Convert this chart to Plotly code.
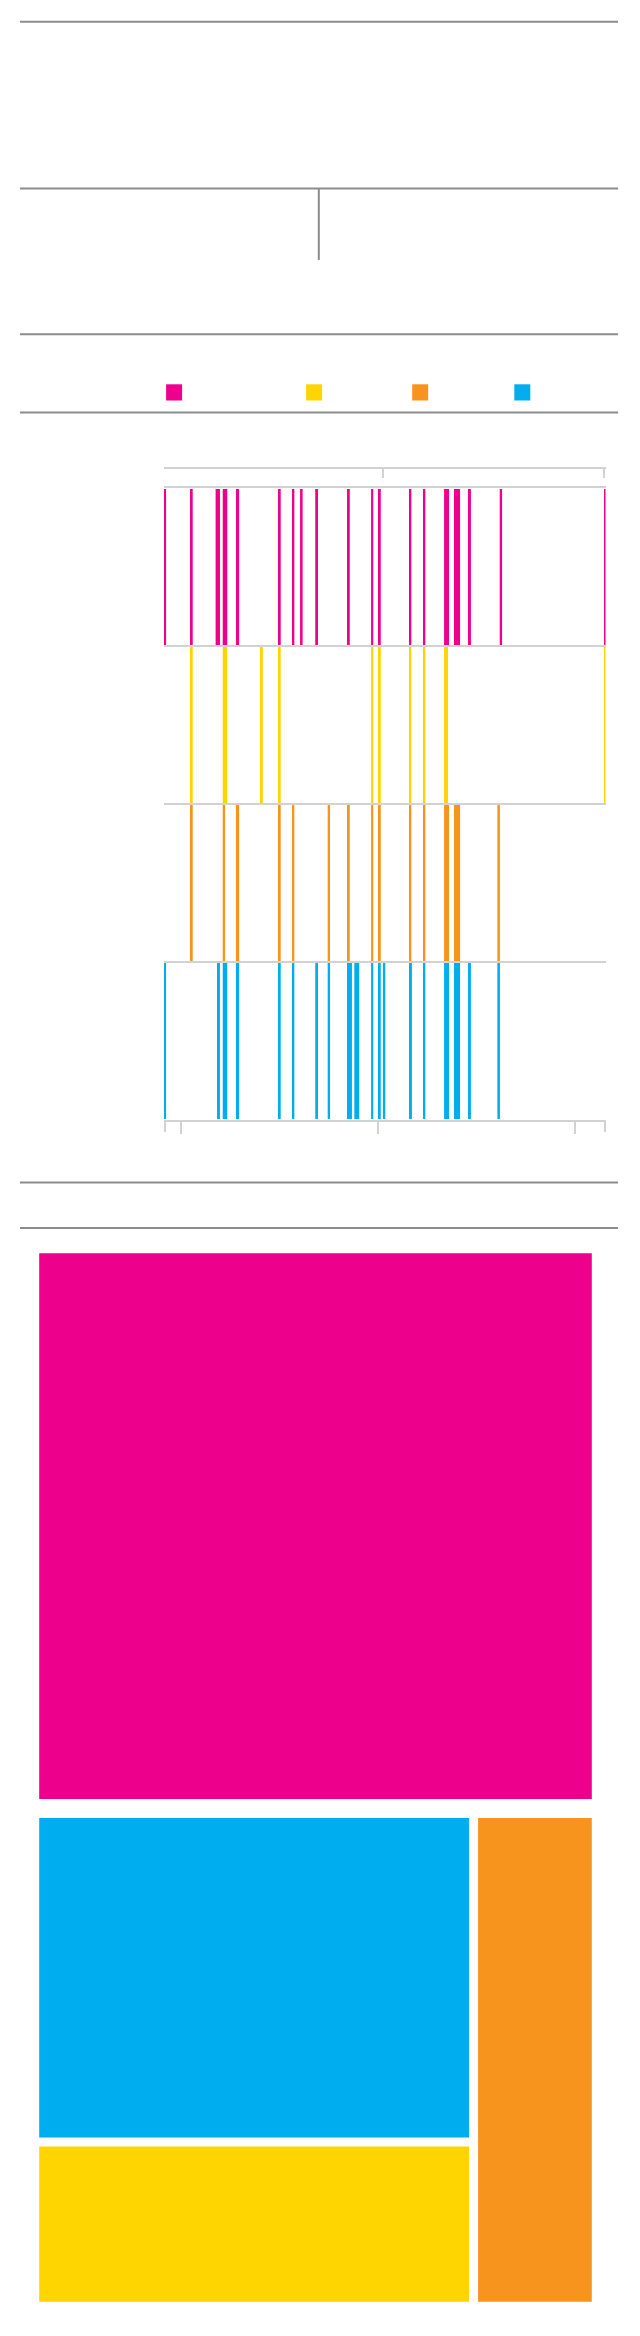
import plotly.graph_objects as go

W, H = 640, 2336

PINK = '#EC008C'
YELLOW = '#FED500'
ORANGE = '#F7941E'
BLUE = '#00AEEF'
RULE = '#8C8C8C'
LIGHT = '#D2D2D2'

# ---- barcode data: periods (decimal years) per series ----
pink_start = [1999.15, 2000.47, 2001.77, 2002.13, 2002.80, 2004.93, 2005.64, 2006.05, 2006.82, 2008.43,
              2009.65, 2010.00, 2011.57, 2012.28, 2013.35, 2013.85, 2014.56, 2016.17, 2021.46]
pink_end = [1999.26, 2000.61, 2001.99, 2002.36, 2002.96, 2005.07, 2005.76, 2006.18, 2006.96, 2008.57,
            2009.76, 2010.14, 2011.69, 2012.40, 2013.60, 2014.16, 2014.71, 2016.29, 2021.56]

yellow_start = [2000.47, 2002.13, 2004.02, 2004.93, 2009.65, 2010.00, 2011.57, 2012.28, 2013.35, 2021.46]
yellow_end = [2000.61, 2002.36, 2004.16, 2005.07, 2009.76, 2010.14, 2011.69, 2012.40, 2013.55, 2021.56]

orange_start = [2000.47, 2002.13, 2002.80, 2004.93, 2005.64, 2007.45, 2008.43, 2009.65, 2010.00, 2011.57,
                2012.28, 2013.35, 2013.85, 2016.05]
orange_end = [2000.61, 2002.25, 2002.96, 2005.07, 2005.76, 2007.57, 2008.57, 2009.76, 2010.14, 2011.69,
              2012.40, 2013.60, 2014.16, 2016.18]

blue_start = [1999.15, 2001.84, 2002.13, 2002.80, 2004.93, 2005.64, 2006.82, 2007.45, 2008.43, 2008.80,
              2009.65, 2010.00, 2010.25, 2011.57, 2012.28, 2013.35, 2013.85, 2014.56, 2016.05]
blue_end = [1999.26, 2001.99, 2002.36, 2002.96, 2005.07, 2005.76, 2006.96, 2007.57, 2008.68, 2009.05,
            2009.76, 2010.14, 2010.37, 2011.72, 2012.40, 2013.60, 2014.16, 2014.71, 2016.18]

x_range = [1999.154, 2021.531]
bottom_ticks = [2000, 2010, 2020]
bottom_end_ticks = [1999.19, 2021.49]
top_ticks = [1999.17, 2010.25, 2021.44]

# ---- treemap data ----
tree_labels = ['pink', 'blue', 'yellow', 'orange']
tree_values = [52.5, 24.8, 12.4, 10.4]

def px_x(p):
    return p / W

def px_y(p):
    return 1 - p / H

fig = go.Figure()

rows = [
    ('pink', pink_start, pink_end, PINK, 3.5),
    ('yellow', yellow_start, yellow_end, YELLOW, 2.5),
    ('orange', orange_start, orange_end, ORANGE, 1.5),
    ('blue', blue_start, blue_end, BLUE, 0.5),
]
for name, s, e, col, yc in rows:
    fig.add_trace(go.Bar(
        orientation='h', name=name,
        y=[yc] * len(s), base=s, x=[b - a for a, b in zip(s, e)],
        width=0.987, marker=dict(color=col, line=dict(width=0), opacity=1),
        showlegend=False, hoverinfo='skip',
    ))

# empty trace so the top bracket axis is drawn
fig.add_trace(go.Scatter(x=[], y=[], xaxis='x2', yaxis='y', showlegend=False, hoverinfo='skip'))

# treemap
ids = ['root', 'pink', 'group', 'blue', 'yellow', 'orange']
fig.add_trace(go.Treemap(
    ids=ids,
    labels=ids,
    parents=['', 'root', 'root', 'group', 'group', 'group'],
    values=[0, tree_values[0], 0, tree_values[1], tree_values[2], tree_values[3]],
    branchvalues='remainder',
    sort=True,
    marker=dict(colors=['rgba(0,0,0,0)', PINK, 'rgba(0,0,0,0)', BLUE, YELLOW, ORANGE],
                line=dict(width=0), pad=dict(t=10, l=0, r=0, b=0)),
    tiling=dict(packing='squarify', squarifyratio=1.618, pad=9),
    pathbar=dict(visible=False),
    textinfo='none',
    textfont=dict(color='rgba(0,0,0,0)', size=1),
    outsidetextfont=dict(color='rgba(0,0,0,0)', size=1),
    insidetextfont=dict(color='rgba(0,0,0,0)', size=1),
    hoverinfo='skip',
    root=dict(color='rgba(0,0,0,0)'),
    domain=dict(x=[px_x(39.2), px_x(591.8)], y=[px_y(2301.7), px_y(1243.3)]),
))

shapes = []
for yy in [21.7, 188.5, 334.3, 412.5, 1182.5, 1228.0]:
    shapes.append(dict(type='line', xref='paper', yref='paper',
                       x0=px_x(20), x1=px_x(618), y0=px_y(yy), y1=px_y(yy),
                       line=dict(color=RULE, width=2)))
shapes.append(dict(type='line', xref='paper', yref='paper',
                   x0=px_x(318.8), x1=px_x(318.8), y0=px_y(188.5), y1=px_y(260),
                   line=dict(color=RULE, width=2)))
for x0, col in [(166.1, PINK), (306.1, YELLOW), (412.2, ORANGE), (514.3, BLUE)]:
    shapes.append(dict(type='rect', xref='paper', yref='paper',
                       x0=px_x(x0), x1=px_x(x0 + 16), y0=px_y(400.5), y1=px_y(384.3),
                       fillcolor=col, line=dict(width=0)))

fig.update_layout(
    width=W, height=H,
    margin=dict(l=0, r=0, t=0, b=0),
    paper_bgcolor='white', plot_bgcolor='white',
    barmode='overlay',
    showlegend=False,
    shapes=shapes,
    xaxis=dict(domain=[px_x(164), px_x(605.5)], range=x_range, showgrid=False, zeroline=False,
               showline=True, mirror=True, linecolor=LIGHT, linewidth=2,
               tickmode='array', tickvals=bottom_ticks, ticks='outside', ticklen=12,
               tickwidth=2, tickcolor=LIGHT, showticklabels=False, fixedrange=True,
               minor=dict(tickmode='array', tickvals=bottom_end_ticks, ticks='outside',
                          ticklen=10, tickwidth=2, tickcolor=LIGHT, showgrid=False)),
    xaxis2=dict(overlaying='x', side='top', anchor='free', position=px_y(468),
                range=x_range, showgrid=False, zeroline=False, showline=True,
                linecolor=LIGHT, linewidth=2, tickmode='array', tickvals=top_ticks,
                ticks='inside', ticklen=9, tickwidth=2, tickcolor=LIGHT,
                showticklabels=False, fixedrange=True),
    yaxis=dict(domain=[px_y(1120), px_y(488)], range=[0, 4], tickmode='array',
               tickvals=[1, 2, 3], showgrid=True, gridcolor=LIGHT, gridwidth=2,
               zeroline=False, showline=False, showticklabels=False, ticks='',
               fixedrange=True),
)

fig.write_html("out.html", config={'displayModeBar': False},
               post_script="document.body.style.margin='0';")
